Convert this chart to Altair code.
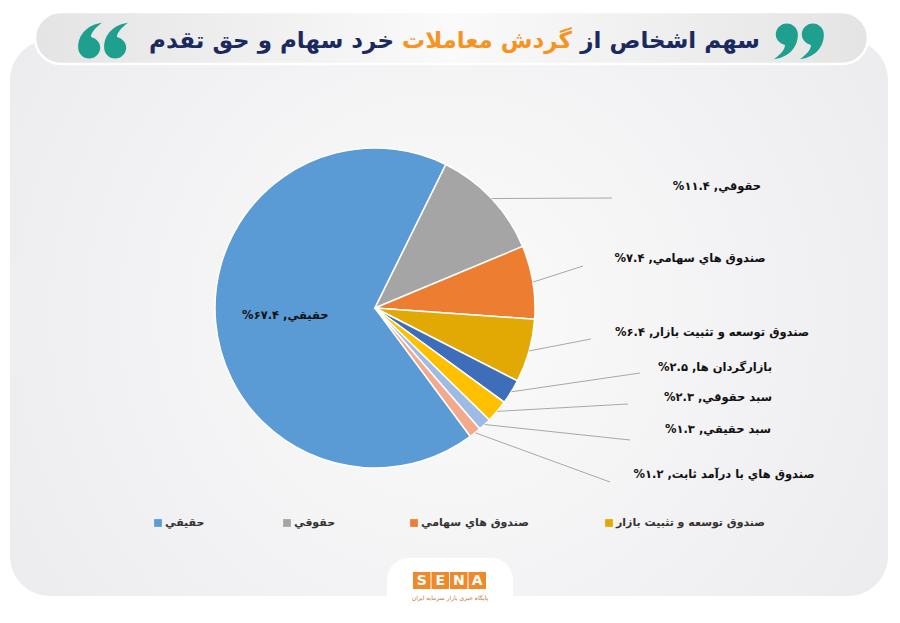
import math
import altair as alt
import pandas as pd

# ---------------- data ----------------
NAMES = ["حقيقي", "حقوقي", "صندوق هاي سهامي", "صندوق توسعه و تثبيت بازار",
         "بازارگردان ها", "سبد حقوقي", "سبد حقيقي", "صندوق هاي با درآمد ثابت"]
VALUES = [67.4, 11.4, 7.4, 6.4, 2.5, 2.3, 1.3, 1.2]
COLORS = ["#5B9BD5", "#A5A5A5", "#ED7D31", "#E2A905",
          "#3E6DB9", "#FFC000", "#9DBBE5", "#F2A98C"]
LEGEND_COUNT = 4
TITLE_PARTS = ["سهم اشخاص از", "گردش معاملات", "خرد سهام و حق تقدم"]
LOGO_LETTERS = ["S", "E", "N", "A"]
LOGO_SUB = "پایگاه خبری بازار سرمایه ایران"

# ---------------- layout (chart pixel coords) ----------------
W, H = 884, 605
CX, CY, R = 367, 300, 160
START = math.radians(143.4)
LABEL_X = [None, 709, 682, 704, 707, 710, 710, 716]
LABEL_Y = [None, 179, 251, 325, 360, 390, 422, 467]
LINE_EX = [None, 604, 575, 583, 632, 620, 622, 602]
LINE_EY = [None, 190, 258, 331, 365, 396, 432, 474]
LEG_X = [150, 279, 406, 601]
LEG_Y = 515
QUOTE_X = [777, 803, 83, 109]
QUOTE_ANGLE = [0, 0, 180, 180]
FONT = "DejaVu Sans"
COMMA_PATH = ("M -0.5 -0.35 A 0.6 0.6 0 1 1 0.7 -0.35 "
              "C 0.7 0.4 0.15 0.9 -0.6 1.0 "
              "C -0.2 0.7 0.0 0.45 0.0 0.22 "
              "C -0.3 0.15 -0.5 -0.1 -0.5 -0.35 Z")

FA = str.maketrans("0123456789", "۰۱۲۳۴۵۶۷۸۹")


def fa(v):
    return f"{v:.1f}".translate(FA)


df = pd.DataFrame({
    "idx": list(range(len(NAMES))),
    "name": NAMES,
    "value": VALUES,
    "label": [f"\u202B{n}, {fa(v)}%\u202C" for n, v in zip(NAMES, VALUES)],
    "lx": [(-1 if v is None else v) for v in LABEL_X],
    "ly": [(-1 if v is None else v) for v in LABEL_Y],
    "ex": [(-1 if v is None else v) for v in LINE_EX],
    "ey": [(-1 if v is None else v) for v in LINE_EY],
})

color_scale = alt.Scale(domain=NAMES, range=COLORS)
one = pd.DataFrame({"a": [0]})

# ---------------- decorations ----------------
panel = alt.Chart(one).mark_rect(
    cornerRadius=40,
    fill={"gradient": "radial", "x1": 0.5, "y1": 0.5, "r1": 0.0,
          "x2": 0.5, "y2": 0.5, "r2": 0.75,
          "stops": [{"offset": 0, "color": "#FBFBFB"},
                    {"offset": 1, "color": "#E8E7EB"}]},
).encode(x=alt.value(2), x2=alt.value(880), y=alt.value(32), y2=alt.value(588))

pill = alt.Chart(one).mark_rect(
    cornerRadius=26, stroke="#FFFFFF", strokeWidth=2.5,
    fill={"gradient": "linear", "x1": 0, "y1": 0, "x2": 1, "y2": 0,
          "stops": [{"offset": 0, "color": "#E4E4E4"},
                    {"offset": 0.5, "color": "#FAFAFA"},
                    {"offset": 1, "color": "#E4E4E4"}]},
).encode(x=alt.value(27), x2=alt.value(860), y=alt.value(4), y2=alt.value(56))

tab = alt.Chart(one).mark_rect(cornerRadius=22, fill="#FFFFFF").encode(
    x=alt.value(379), x2=alt.value(505), y=alt.value(550), y2=alt.value(620))

TS = 23
t_right = alt.Chart(one).mark_text(
    text=TITLE_PARTS[0], font=FONT, fontWeight="bold", fontSize=TS,
    color="#1B2A5E", align="right", baseline="middle"
).encode(x=alt.value(752), y=alt.value(33))
t_mid = alt.Chart(one).mark_text(
    text=TITLE_PARTS[1], font=FONT, fontWeight="bold", fontSize=TS,
    color="#F7931E", align="center", baseline="middle"
).encode(x=alt.value(479), y=alt.value(33))
t_left = alt.Chart(one).mark_text(
    text=TITLE_PARTS[2], font=FONT, fontWeight="bold", fontSize=TS,
    color="#1B2A5E", align="right", baseline="middle"
).encode(x=alt.value(386), y=alt.value(33))

q_df = pd.DataFrame({"qx": QUOTE_X, "ang": QUOTE_ANGLE})
quotes = alt.Chart(q_df).mark_point(
    shape=COMMA_PATH, size=1350, filled=True, color="#1FA08F", opacity=1
).encode(
    x=alt.X("qx:Q", scale=None, axis=None), y=alt.value(33),
    angle=alt.Angle("ang:Q", scale=None),
)

logo_df = pd.DataFrame({"L": LOGO_LETTERS, "i": range(len(LOGO_LETTERS))})
logo_boxes = alt.Chart(logo_df).mark_rect(fill="#F0892A").encode(
    x=alt.X("bx:Q", scale=None, axis=None), x2="bx2:Q",
    y=alt.value(564), y2=alt.value(581)
).transform_calculate(bx="405 + datum.i*18.5", bx2="405 + datum.i*18.5 + 17.5")
logo_text = alt.Chart(logo_df).mark_text(
    font=FONT, fontWeight="bold", fontSize=14, color="#FFFFFF",
    align="center", baseline="middle"
).encode(x=alt.X("bc:Q", scale=None, axis=None), y=alt.value(573), text="L:N"
).transform_calculate(bc="405 + datum.i*18.5 + 8.75")
logo_sub = alt.Chart(one).mark_text(
    text=LOGO_SUB, font=FONT, fontSize=6, color="#B9773A",
    align="center", baseline="middle"
).encode(x=alt.value(442), y=alt.value(590))

# ---------------- pie ----------------
pie = alt.Chart(df).mark_arc(outerRadius=R, stroke="#FFFFFF", strokeWidth=1.5).encode(
    theta=alt.Theta("value:Q", stack=True,
                    scale=alt.Scale(range=[START, START + 2 * math.pi])),
    order=alt.Order("idx:Q"),
    color=alt.Color("name:N", scale=color_scale, legend=None),
    x=alt.value(CX), y=alt.value(CY),
)

geo = alt.Chart(df).transform_joinaggregate(
    total="sum(value)"
).transform_window(
    cum="sum(value)", sort=[alt.SortField("idx")], frame=[None, 0]
).transform_calculate(
    mid=f"{START} + 2*PI*(datum.cum - datum.value/2)/datum.total",
).transform_calculate(
    sx=f"{CX} + {R}*sin(datum.mid)",
    sy=f"{CY} - {R}*cos(datum.mid)",
    tx=f"datum.idx == 0 ? {CX} + 90*sin(datum.mid) : datum.lx",
    ty=f"datum.idx == 0 ? {CY} - 90*cos(datum.mid) : datum.ly",
)

leaders = geo.transform_filter("datum.idx > 0").mark_rule(
    color="#A8A8A8", strokeWidth=1
).encode(
    x=alt.X("sx:Q", scale=None, axis=None),
    y=alt.Y("sy:Q", scale=None, axis=None),
    x2="ex:Q", y2="ey:Q",
)

labels = geo.mark_text(
    font=FONT, fontWeight="bold", fontSize=11.5, color="#111111",
    align="center", baseline="middle"
).encode(
    x=alt.X("tx:Q", scale=None, axis=None),
    y=alt.Y("ty:Q", scale=None, axis=None),
    text="label:N",
)

# ---------------- legend ----------------
leg_df = pd.DataFrame({"name": NAMES[:LEGEND_COUNT], "lx": LEG_X})
leg_sym = alt.Chart(leg_df).mark_square(size=60, opacity=1).encode(
    x=alt.X("lx:Q", scale=None, axis=None), y=alt.value(LEG_Y),
    color=alt.Color("name:N", scale=color_scale, legend=None),
)
leg_txt = alt.Chart(leg_df).mark_text(
    font=FONT, fontWeight="bold", fontSize=11, color="#333333",
    align="left", baseline="middle", dx=7
).encode(x=alt.X("lx:Q", scale=None, axis=None), y=alt.value(LEG_Y), text="name:N")

chart = alt.layer(
    panel, pill, tab, quotes, t_right, t_mid, t_left,
    pie, leaders, labels, leg_sym, leg_txt,
    logo_boxes, logo_text, logo_sub,
).properties(
    width=W, height=H, padding=0, autosize="none", background="#FFFFFF"
).configure_view(stroke=None)

chart.save("out.html", embed_options={"renderer": "svg", "actions": False})
